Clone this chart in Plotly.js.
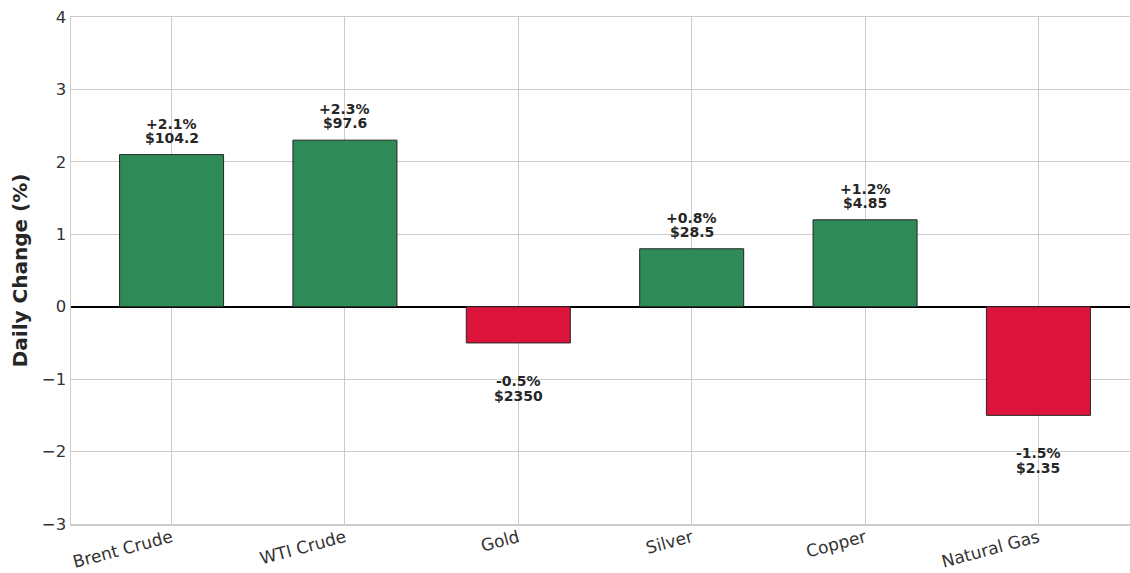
<!DOCTYPE html>
<html>
<head>
<meta charset="utf-8">
<script src="https://cdn.plot.ly/plotly-3.0.1.min.js"></script>
<style>
html,body{margin:0;padding:0;overflow:hidden;background:#fff;width:1130px;height:573px;}
#chart{width:1139px;height:573px;}
</style>
</head>
<body>
<div id="chart"></div>
<script>
const commodities = ["Brent Crude", "WTI Crude", "Gold", "Silver", "Copper", "Natural Gas"];
const dailyChange = [2.1, 2.3, -0.5, 0.8, 1.2, -1.5];
const prices = ["$104.2", "$97.6", "$2350", "$28.5", "$4.85", "$2.35"];
const yTicks = [-3, -2, -1, 0, 1, 2, 3, 4];

const UP = "#2E8B57", DOWN = "#DC143C";
const FONT = "DejaVu Sans, Liberation Sans, sans-serif";

const trace = {
  type: "bar",
  x: commodities,
  y: dailyChange,
  width: 0.6,
  marker: {
    color: dailyChange.map(v => v >= 0 ? UP : DOWN),
    line: {color: "#262626", width: 1}
  },
  hoverinfo: "x+y"
};

const annotations = [];
commodities.forEach((c, i) => {
  const v = dailyChange[i];
  const pct = (v >= 0 ? "+" : "") + v.toFixed(1) + "%";
  const pos = v >= 0;
  const common = {
    x: c, y: v, xref: "x", yref: "y",
    showarrow: false, xanchor: "center", yanchor: "middle",
    font: {family: FONT, size: 14, color: "#262626"}
  };
  annotations.push(Object.assign({}, common, {text: "<b>" + pct + "</b>", yshift: pos ? 31 : -38}));
  annotations.push(Object.assign({}, common, {text: "<b>" + prices[i] + "</b>", yshift: pos ? 17 : -53}));
});

const layout = {
  width: 1139, height: 573,
  margin: {l: 71, r: 0, t: 17, b: 49},
  paper_bgcolor: "#ffffff",
  plot_bgcolor: "#ffffff",
  showlegend: false,
  font: {family: FONT, color: "#262626"},
  xaxis: {
    type: "category",
    range: [-0.58, 5.58],
    tickangle: -15,
    ticklabelstandoff: -4,
    tickfont: {family: FONT, size: 17, color: "#333333"},
    showgrid: true, gridcolor: "#cccccc", gridwidth: 1,
    showline: true, linecolor: "#cccccc", linewidth: 1.5, mirror: true,
    ticks: "", ticklen: 0,
    zeroline: false
  },
  yaxis: {
    range: [-3, 4],
    tickvals: yTicks,
    tickfont: {family: FONT, size: 16.5, color: "#333333"},
    title: {text: "<b>Daily Change (%)</b>", font: {family: FONT, size: 20, color: "#262626"}, standoff: 9},
    showgrid: true, gridcolor: "#cccccc", gridwidth: 1,
    showline: true, linecolor: "#cccccc", linewidth: 1.5, mirror: true,
    zeroline: true, zerolinecolor: "#000000", zerolinewidth: 1.6,
    ticks: "", ticklen: 0
  },
  annotations: annotations
};

Plotly.newPlot("chart", [trace], layout, {displayModeBar: false, staticPlot: true});
</script>
</body>
</html>
